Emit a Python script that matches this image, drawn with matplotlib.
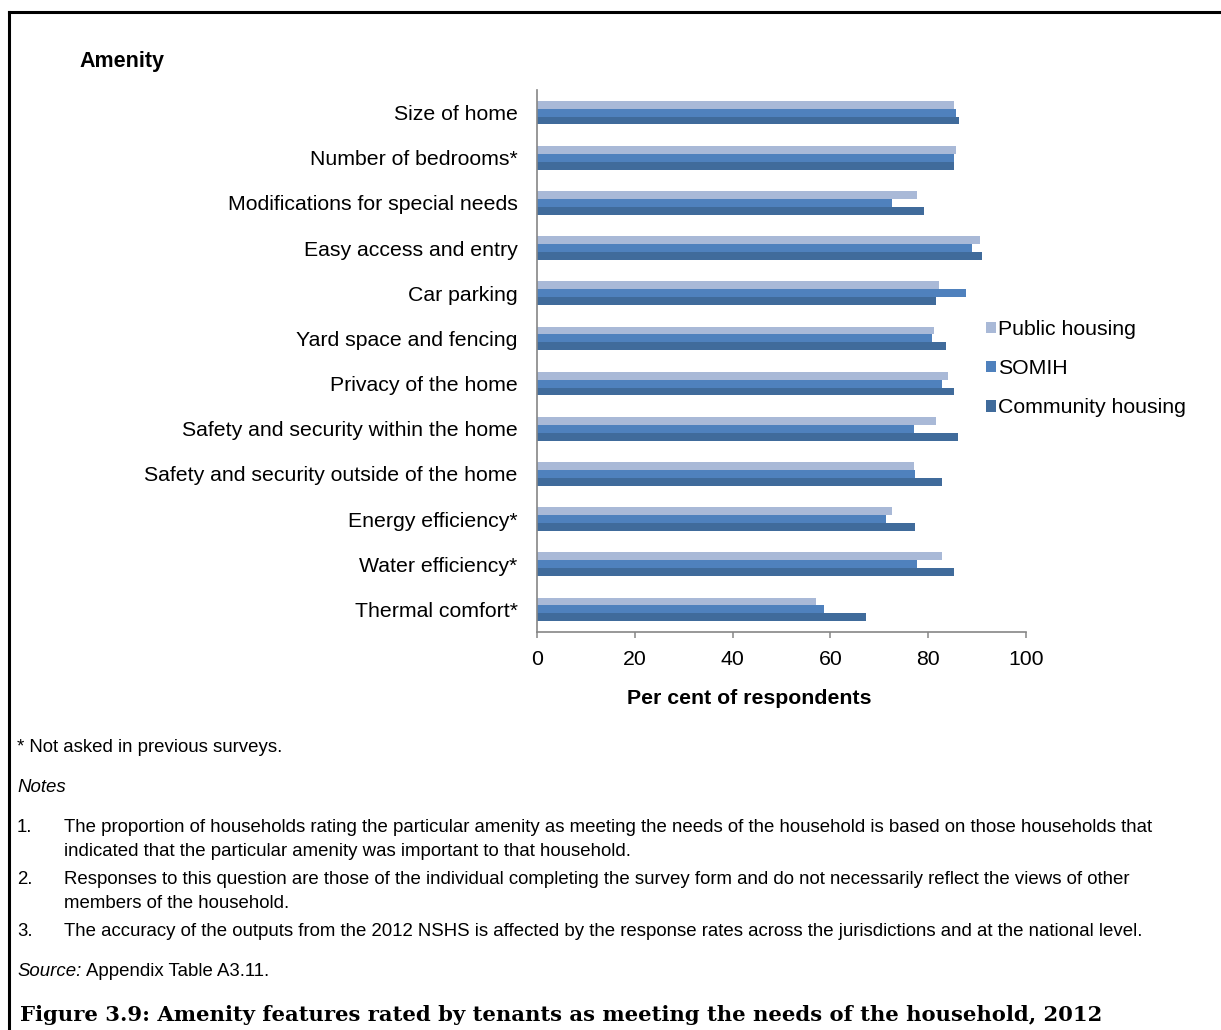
import matplotlib
matplotlib.use('Agg')
import matplotlib.pyplot as plt
from matplotlib.lines import Line2D
from matplotlib.patches import Patch
import numpy as np

plt.rcParams['font.family'] = ['Liberation Sans', 'DejaVu Sans']

amenities = ['Size of home', 'Number of bedrooms*', 'Modifications for special needs',
             'Easy access and entry', 'Car parking', 'Yard space and fencing',
             'Privacy of the home', 'Safety and security within the home',
             'Safety and security outside of the home', 'Energy efficiency*',
             'Water efficiency*', 'Thermal comfort*']
public = [85.2, 85.6, 77.8, 90.5, 82.3, 81.1, 84.0, 81.5, 77.0, 72.5, 82.8, 57.0]
somih = [85.6, 85.2, 72.5, 88.9, 87.7, 80.7, 82.8, 77.0, 77.4, 71.3, 77.8, 58.6]
community = [86.4, 85.2, 79.1, 90.9, 81.5, 83.6, 85.2, 86.0, 82.8, 77.4, 85.2, 67.2]
series_names = ['Public housing', 'SOMIH', 'Community housing']
colors = ['#A9B9D7', '#4F81BD', '#406B9B']
xticks = [0, 20, 40, 60, 80, 100]

W, H = 1221, 1030
fig = plt.figure(figsize=(W / 100, H / 100), dpi=100)
ax = fig.add_axes([537 / W, 1 - 632 / H, 489 / W, 542 / H])

y = np.arange(len(amenities))
h = 0.175
for k, (vals, c) in enumerate(zip([public, somih, community], colors)):
    ax.barh(y + (k - 1) * h, vals, height=h, color=c, label=series_names[k])

ax.set_ylim(len(amenities) - 0.5, -0.5)
ax.set_xlim(0, 100)
ax.set_xticks(xticks)
ax.set_yticks(y)
ax.set_yticklabels(amenities)
ax.tick_params(axis='y', length=0, pad=14, labelsize=15.3)
ax.tick_params(axis='x', length=4, width=1.1, color='#868686', pad=9, labelsize=15.3)
for s in ['top', 'right']:
    ax.spines[s].set_visible(False)
for s in ['left', 'bottom']:
    ax.spines[s].set_color('#868686')
    ax.spines[s].set_linewidth(1.2)
fig.text(749 / W, 1 - 699 / H, 'Per cent of respondents', fontsize=15.3, fontweight='bold',
         ha='center', va='center')

handles = [Patch(facecolor=c, edgecolor='none') for c in colors]
fig.legend(handles, series_names, loc='upper left', bbox_to_anchor=(986 / W, 1 - 320 / H),
           frameon=False, fontsize=15.3, handlelength=0.45, handleheight=0.45,
           handletextpad=0.1, labelspacing=0.95, borderaxespad=0, borderpad=0)

# heading and frame
fig.text(79 / W, 1 - 62 / H, 'Amenity', fontsize=15.5, fontweight='bold', va='center')
fig.add_artist(Line2D([9 / W, 9 / W], [0, 1 - 12 / H], color='black', lw=2.2))
fig.add_artist(Line2D([9 / W, 1], [1 - 12 / H, 1 - 12 / H], color='black', lw=2.2))

# notes
fs = 13.4
fig.text(17 / W, 1 - 747 / H, '* Not asked in previous surveys.', fontsize=fs, va='center')
fig.text(17 / W, 1 - 787 / H, 'Notes', fontsize=fs, style='italic', va='center')
notes = [
    ('1.', ['The proportion of households rating the particular amenity as meeting the needs of the household is based on those households that',
            'indicated that the particular amenity was important to that household.'], 827),
    ('2.', ['Responses to this question are those of the individual completing the survey form and do not necessarily reflect the views of other',
            'members of the household.'], 879),
    ('3.', ['The accuracy of the outputs from the 2012 NSHS is affected by the response rates across the jurisdictions and at the national level.'], 931),
]
for num, lines, ypx in notes:
    fig.text(17 / W, 1 - ypx / H, num, fontsize=fs, va='center')
    for j, line in enumerate(lines):
        fig.text(64 / W, 1 - (ypx + 24 * j) / H, line, fontsize=fs, va='center')
fig.text(17 / W, 1 - 971 / H, 'Source:', fontsize=fs, style='italic', va='center')
fig.text(86 / W, 1 - 971 / H, 'Appendix Table A3.11.', fontsize=fs, va='center')

fig.text(20 / W, 1 - 1015 / H,
         'Figure 3.9: Amenity features rated by tenants as meeting the needs of the household, 2012',
         fontsize=15.2, fontweight='bold', family=['DejaVu Serif'], va='center')

fig.savefig('out.png', dpi=100)
